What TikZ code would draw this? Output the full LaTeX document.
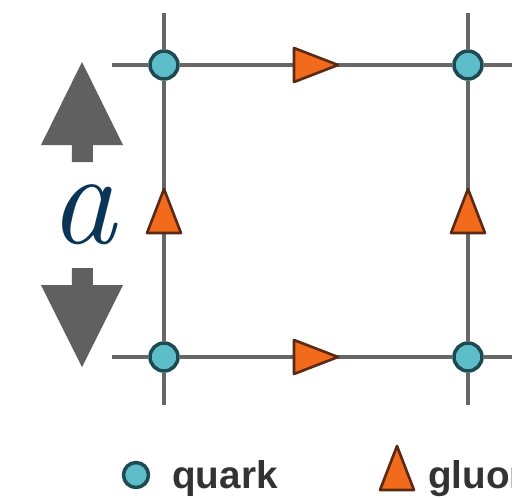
\documentclass[tikz,border=0pt]{standalone}
\usepackage{fontspec}
\newfontfamily\legendfont{Liberation Sans}
\definecolor{linkgray}{HTML}{666666}
\definecolor{quarkfill}{HTML}{5DBDC9}
\definecolor{quarkedge}{HTML}{1E4A52}
\definecolor{gluonfill}{HTML}{F26A1B}
\definecolor{gluonedge}{HTML}{5A2A12}
\definecolor{arrowgray}{HTML}{606060}
\definecolor{anavy}{HTML}{0B3556}
\definecolor{keytext}{HTML}{333333}
\tikzset{
  link/.style={draw=linkgray, line width=2.2pt},
  quark/.style={circle, fill=quarkfill, draw=quarkedge, line width=2pt,
    minimum size=0.56cm, inner sep=0pt},
  keylabel/.style={anchor=base west, inner sep=0pt, text=keytext,
    font=\legendfont\bfseries\fontsize{22}{24}\selectfont},
  pics/gluon/.style={code={
    \filldraw[fill=gluonfill, draw=gluonedge, line width=1.5pt, line join=round]
      (22,0) -- (-22,17) -- (-22,-17) -- cycle;}}
}
\begin{document}
\begin{tikzpicture}[x=0.02cm,y=-0.02cm]
  \useasboundingbox (0,0) rectangle (512,498);
  \clip (0,0) rectangle (512,498);
  \fill[white] (0,0) rectangle (512,498);

  % lattice sites
  \node[quark] (q11) at (164,65) {};
  \node[quark] (q12) at (468,65) {};
  \node[quark] (q21) at (164,357) {};
  \node[quark] (q22) at (468,357) {};

  % free ends of the links
  \coordinate (l1) at (112,65);  \coordinate (r1) at (530,65);
  \coordinate (l2) at (112,357); \coordinate (r2) at (530,357);
  \coordinate (t1) at (164,13);  \coordinate (b1) at (164,405);
  \coordinate (t2) at (468,13);  \coordinate (b2) at (468,405);

  \draw[link] (l1) -- (q11) -- (q12) -- (r1);
  \draw[link] (l2) -- (q21) -- (q22) -- (r2);
  \draw[link] (t1) -- (q11) -- (q21) -- (b1);
  \draw[link] (t2) -- (q12) -- (q22) -- (b2);

  % gluons on the links
  \path (q11) -- (q12) coordinate[midway] (g1);
  \path (q21) -- (q22) coordinate[midway] (g2);
  \path (q11) -- (q21) coordinate[midway] (g3);
  \path (q12) -- (q22) coordinate[midway] (g4);
  \pic at (g1) {gluon};
  \pic at (g2) {gluon};
  \pic[rotate=90] at (g3) {gluon};
  \pic[rotate=90] at (g4) {gluon};

  % lattice spacing
  \node[text=anavy, inner sep=0pt] (alabel) at (83,215)
    {\fontsize{76}{80}\selectfont\itshape a};
  \fill[arrowgray] (82,62) -- (123,145) -- (93,145) -- (93,162)
    -- (72,162) -- (72,145) -- (41,145) -- cycle;
  \fill[arrowgray] (82,367) -- (123,285) -- (93,285) -- (93,268)
    -- (72,268) -- (72,285) -- (41,285) -- cycle;

  % legend
  \node[quark, minimum size=0.5cm] (keyq) at (136,475) {};
  \node[keylabel] (keyqt) at (172,488) {quark};
  \pic[rotate=90] at (397,468) {gluon};
  \node[keylabel] (keygt) at (428,488) {gluon};
\end{tikzpicture}
\end{document}
